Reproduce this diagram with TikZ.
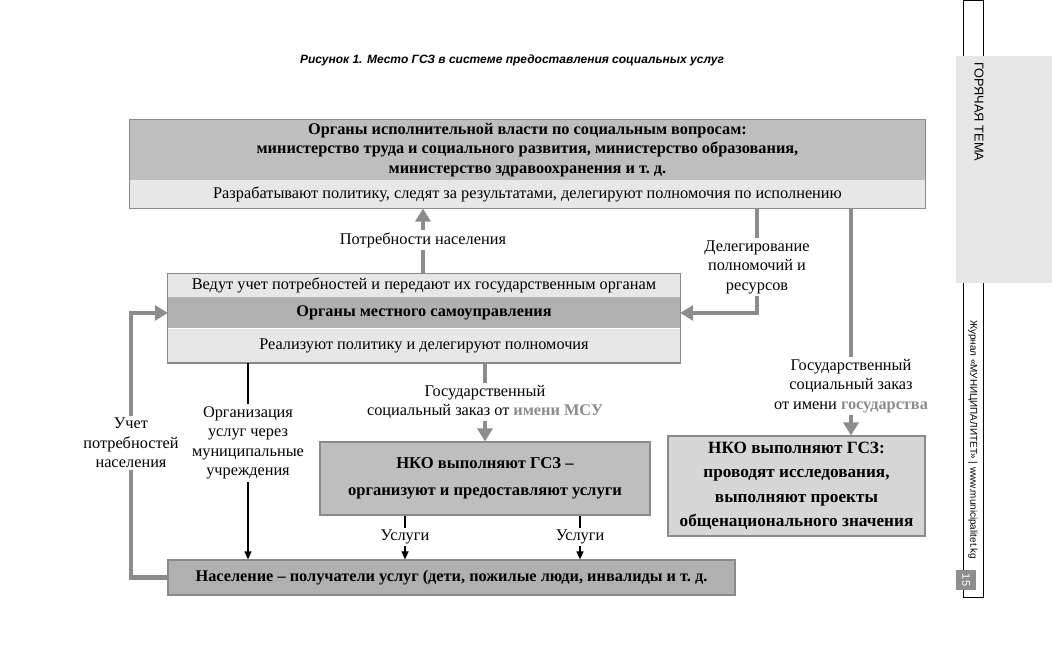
\documentclass[tikz,border=0pt]{standalone}
\usepackage{fontspec}
\setmainfont{Liberation Serif}
\setsansfont{Liberation Sans}
\usepackage{tikz}
\usetikzlibrary{arrows.meta,positioning}

\definecolor{headgray}{HTML}{BEBEBE}
\definecolor{midgray}{HTML}{B0B0B0}
\definecolor{bandgray}{HTML}{E7E7E7}
\definecolor{lightgray}{HTML}{D6D6D6}
\definecolor{linegray}{HTML}{8C8C8C}
\definecolor{framegray}{HTML}{8A8A8A}
\definecolor{sidegray}{HTML}{E6E6E6}
\definecolor{pagegray}{HTML}{8E8E8E}

\tikzset{
	band/.style={rectangle,fill=bandgray,inner sep=0pt,align=center,font=\fontsize{16.3}{19.5}\selectfont},
	head/.style={band,fill=headgray,font=\fontsize{16.3}{19.5}\selectfont\bfseries},
	frame/.style={draw=framegray,line width=1.2pt},
	lbl/.style={align=center,inner sep=2pt,font=\fontsize{16.3}{19.5}\selectfont},
	gline/.style={draw=linegray,line width=4.5pt},
	garrow/.style={gline,-{Triangle[width=15pt,length=13pt]}},
	bline/.style={line width=1.3pt},
	barrow/.style={bline,-{Triangle[width=7pt,length=8pt]}},
	side/.style={rotate=-90,anchor=west,inner sep=0pt,font=\sffamily\fontsize{9.9}{12}\selectfont}
}

\begin{document}
\begin{tikzpicture}[x=1pt,y=-1pt]
\useasboundingbox (0,0) rectangle (1052,669);
\fill[white] (0,0) rectangle (1052,669);

\node[font=\sffamily\bfseries\itshape\fontsize{12}{14}\selectfont] (title) at (512,60)
	{Рисунок 1. Место ГСЗ в системе предоставления социальных услуг};

% executive power
\node[head,minimum width=795pt,minimum height=60pt] (exec) at (527.5,150)
	{Органы исполнительной власти по социальным вопросам:\\
	министерство труда и социального развития, министерство образования,\\
	министерство здравоохранения и т.~д.};
\node[band,minimum width=795pt,minimum height=28pt,below=0pt of exec] (execSub)
	{Разрабатывают политику, следят за результатами, делегируют полномочия по исполнению};
\draw[frame] (exec.north west) rectangle (execSub.south east);

% local self-government
\node[band,minimum width=512pt,minimum height=23pt] (lsgTop) at (424,285.5)
	{Ведут учет потребностей и передают их государственным органам};
\node[head,fill=midgray,minimum width=512pt,minimum height=31pt,below=0pt of lsgTop] (lsg)
	{Органы местного самоуправления};
\node[band,minimum width=512pt,minimum height=34pt,below=0pt of lsg] (lsgSub)
	{Реализуют политику и делегируют полномочия};
\draw[frame] (lsgTop.north west) rectangle (lsgSub.south east);

% NGOs and population
\node[head,frame,minimum width=330pt,minimum height=73pt,font=\fontsize{16.6}{27}\selectfont\bfseries] (ngoMun) at (485,478.5)
	{НКО выполняют ГСЗ –\\организуют и предоставляют услуги};
\node[head,frame,fill=lightgray,minimum width=257pt,minimum height=100pt,font=\fontsize{17.2}{24.5}\selectfont\bfseries] (ngoState) at (796.5,486)
	{НКО выполняют ГСЗ:\\проводят исследования,\\выполняют проекты\\общенационального значения};
\node[head,frame,fill=midgray,minimum width=567pt,minimum height=35pt] (people) at (451.5,577.5)
	{Население – получатели услуг (дети, пожилые люди, инвалиды и т.~д.};

% labels
\node[lbl] (needs) at (423,240) {Потребности населения};
\node[lbl] (deleg) at (757,267) {Делегирование\\полномочий и\\ресурсов};
\node[lbl] (orderState) at (851,386) {Государственный\\социальный заказ\\от имени {\bfseries\color{linegray}государства}};
\node[lbl] (orderLsg) at (485,402) {Государственный\\социальный заказ от {\bfseries\color{linegray}имени МСУ}};
\node[lbl] (viaMun) at (248,443) {Организация\\услуг через\\муниципальные\\учреждения};
\node[lbl] (needsLoop) at (131,443) {Учет\\потребностей\\населения};
\node[lbl] (svcA) at (405,537) {Услуги};
\node[lbl] (svcB) at (580,537) {Услуги};

% connectors
\draw[gline] (lsgTop.north -| needs) -- (needs.south);
\draw[garrow] (needs.north) -- (needs.north |- execSub.south);
\draw[gline] (execSub.south -| deleg) -- (deleg.north);
\draw[garrow] (deleg.south) |- (lsg.east);
\draw[gline] (execSub.south -| orderState) -- (orderState.north);
\draw[garrow] (orderState.south) -- (orderState.south |- ngoState.north);
\draw[gline] (lsgSub.south -| orderLsg) -- (orderLsg.north);
\draw[garrow] (orderLsg.south) -- (ngoMun.north);
\draw[bline] (lsgSub.south -| viaMun) -- (viaMun.north);
\draw[barrow] (viaMun.south) -- (viaMun.south |- people.north);
\draw[gline] (people.west) -| (needsLoop.south);
\draw[garrow] (needsLoop.north) |- (lsg.west);
\draw[bline] (ngoMun.south -| svcA) -- (svcA.north);
\draw[barrow] (svcA.south) -- (svcA.south |- people.north);
\draw[bline] (ngoMun.south -| svcB) -- (svcB.north);
\draw[barrow] (svcB.south) -- (svcB.south |- people.north);

% page margin
\draw[line width=0.8pt] (963,56) -- (963,0) -- (983,0) -- (983,56);
\fill[sidegray] (956,56) rectangle (1052,283);
\node[side,font=\sffamily\fontsize{12.8}{14}\selectfont] (rubric) at (979,62) {ГОРЯЧАЯ ТЕМА};
\draw[line width=0.8pt] (963,283) -- (963,597) -- (983,597) -- (983,283);
\node[side] (journal) at (973,320) {Журнал «МУНИЦИПАЛИТЕТ» | www.municipalitet.kg};
\node[fill=pagegray,text=white,rotate=-90,minimum size=20pt,inner sep=0pt,font=\sffamily\fontsize{11}{13}\selectfont] (pageno) at (966,580) {15};
\end{tikzpicture}
\end{document}
